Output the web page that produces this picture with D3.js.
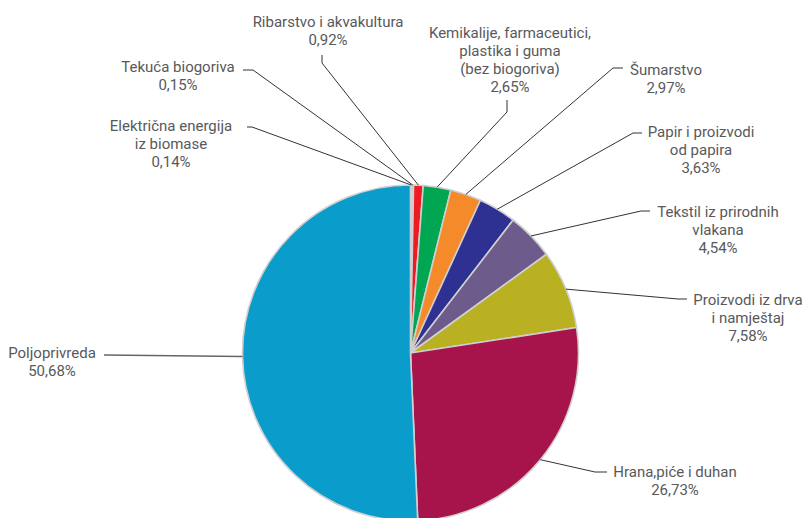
<!DOCTYPE html>
<html>
<head>
<meta charset="utf-8">
<script src="https://cdn.jsdelivr.net/npm/d3@7"></script>
<style>
  body { margin: 0; background: #fff; }
  text { font-family: Roboto, "Liberation Sans", sans-serif; font-size: 15px; fill: #58595b; }
</style>
</head>
<body>
<div class="container"></div>
<script>
const WIDTH = 805;
const HEIGHT = 518;
const CX = 410.5;
const CY = 353;
const RADIUS = 168;

// categories (| marks a line break in the label)
var categories = [
    "Električna energija|iz biomase",
    "Tekuća biogoriva",
    "Ribarstvo i akvakultura",
    "Kemikalije, farmaceutici,|plastika i guma|(bez biogoriva)",
    "Šumarstvo",
    "Papir i proizvodi|od papira",
    "Tekstil iz prirodnih|vlakana",
    "Proizvodi iz drva|i namještaj",
    "Hrana,piće i duhan",
    "Poljoprivreda"
];
var shares = [0.14, 0.15, 0.92, 2.65, 2.97, 3.63, 4.54, 7.58, 26.73, 50.68];
var shareLabels = ["0,14%", "0,15%", "0,92%", "2,65%", "2,97%", "3,63%", "4,54%", "7,58%", "26,73%", "50,68%"];

var colors = ["#a3abb3", "#cfd3d6", "#ed1c24", "#00a651", "#f48a2a", "#2e3192",
              "#6d5b8b", "#b9b122", "#a6144b", "#0a9dcc"];

// label placement: text centre x, first baseline y, leader start and elbow
var labelLayout = [
    { x: 171, y: 131, p1: [247, 127], p2: [252, 127] },
    { x: 178, y: 72,  p1: [243, 70],  p2: [253, 70] },
    { x: 328, y: 27,  p1: [322, 55],  p2: [322, 63] },
    { x: 510, y: 38,  p1: [507, 100], p2: [507, 112] },
    { x: 666, y: 75,  p1: [623, 68],  p2: [613, 68] },
    { x: 701, y: 137, p1: [642, 133], p2: [633, 133] },
    { x: 718, y: 217, p1: [650, 211], p2: [641, 211] },
    { x: 748, y: 305, p1: [687, 299], p2: [678, 299] },
    { x: 675, y: 477, p1: [607, 472], p2: [595, 472] },
    { x: 52,  y: 358, p1: [104, 355], p2: [104, 355] }
];
const LINE_H = 18;

var svg = d3.select(".container")
    .append("svg")
    .attr("width", WIDTH)
    .attr("height", HEIGHT);

var data = shares.map(function (v, i) {
    return { name: categories[i], value: v, label: shareLabels[i], color: colors[i], layout: labelLayout[i] };
});

var pie = d3.pie()
    .sort(null)
    .value(function (d) { return d.value; });

var arcs = pie(data);

var arc = d3.arc().innerRadius(0).outerRadius(RADIUS);
var edgeArc = d3.arc().innerRadius(RADIUS).outerRadius(RADIUS);

var g = svg.append("g")
    .attr("transform", "translate(" + CX + "," + CY + ")");

g.selectAll("path.slice")
    .data(arcs)
    .enter()
    .append("path")
    .attr("class", "slice")
    .attr("d", arc)
    .attr("fill", function (d) { return d.data.color; })
    .attr("stroke", "#cfcfcf")
    .attr("stroke-width", 1.6)
    .attr("stroke-linejoin", "round");

// leader lines
svg.selectAll("polyline.leader")
    .data(arcs)
    .enter()
    .append("polyline")
    .attr("class", "leader")
    .attr("fill", "none")
    .attr("stroke", function (d, i) { return i === 9 ? "#666" : "#333"; })
    .attr("stroke-width", function (d, i) { return i === 9 ? 1.5 : 1; })
    .attr("points", function (d) {
        var c = edgeArc.centroid(d);
        var L = d.data.layout;
        return [L.p1, L.p2, [CX + c[0], CY + c[1]]].map(function (p) { return p.join(","); }).join(" ");
    });

// labels
var labels = svg.selectAll("text.lbl")
    .data(arcs)
    .enter()
    .append("text")
    .attr("class", "lbl")
    .attr("text-anchor", "middle")
    .attr("x", function (d) { return d.data.layout.x; })
    .attr("y", function (d) { return d.data.layout.y; });

labels.each(function (d) {
    var lines = d.data.name.split("|").concat([d.data.label]);
    var t = d3.select(this);
    lines.forEach(function (line, k) {
        t.append("tspan")
            .attr("x", d.data.layout.x)
            .attr("dy", k === 0 ? 0 : LINE_H)
            .text(line);
    });
});
</script>
</body>
</html>
